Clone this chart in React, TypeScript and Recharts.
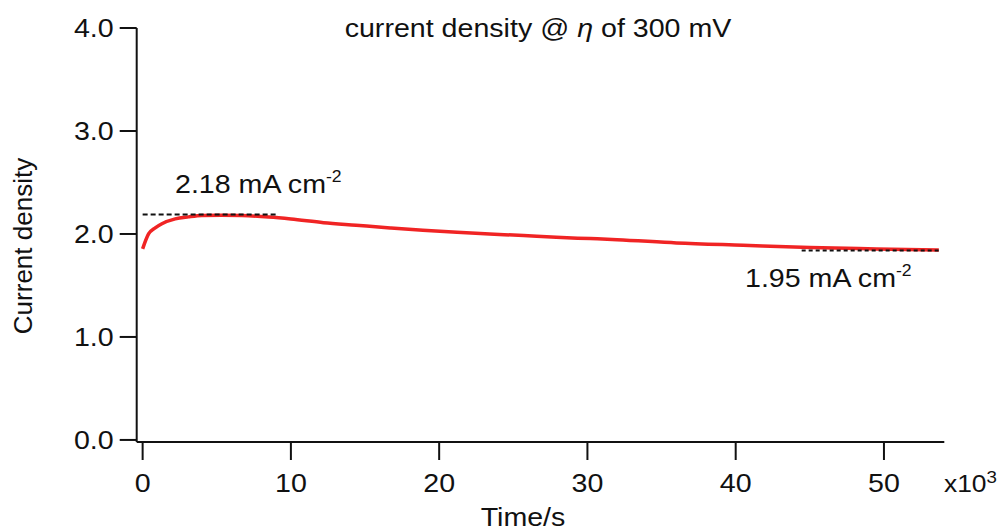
import type { ReactNode } from 'react'
import { Line, LineChart, ReferenceLine, XAxis, YAxis } from 'recharts'

// time in 10^3 s, current density in mA cm^-2
const timeK = [0, 0.4, 0.85, 1.3, 2.2, 3.1, 4, 5.3, 6.7, 8.5, 10, 12.2, 14.4, 16.7, 18.9, 21.2, 23.4, 25.7, 27.9, 30.2, 32, 36, 40.5, 45, 49.5, 53.7]
const currentDensity = [1.855, 2.0, 2.06, 2.1, 2.147, 2.166, 2.179, 2.182, 2.179, 2.164, 2.145, 2.11, 2.085, 2.059, 2.036, 2.016, 2.0, 1.984, 1.967, 1.955, 1.945, 1.913, 1.89, 1.868, 1.855, 1.845]

const xTicks = [0, 10, 20, 30, 40, 50]
const yTicks = [0, 1, 2, 3, 4]

// dashed guide lines: [start time, end time, level]
const peakGuide = [0, 9.1, 2.19]
const endGuide = [44.45, 53.75, 1.84]

const data = timeK.map((t, i) => ({ t, j: currentDensity[i] }))

const FONT = '"Liberation Sans", Arial, Helvetica, sans-serif'
const INK = '#111'
const SX = 1.1 // the original lettering is a bit wide

function Wide({ x, y, anchor = 'start', size = 26, dy, children }: { x: number; y: number; anchor?: 'start' | 'middle' | 'end'; size?: number; dy?: string; children: ReactNode }) {
  return (
    <g transform={`translate(${x},${y}) scale(${SX},1)`}>
      <text x={0} y={0} dy={dy} textAnchor={anchor} fontSize={size} fontFamily={FONT} fill={INK}>
        {children}
      </text>
    </g>
  )
}

const XTick = (p: any) => <Wide x={p.x} y={p.y} anchor="middle" dy="0.71em">{p.payload.value}</Wide>
const YTick = (p: any) => <Wide x={p.x} y={p.y} anchor="end" dy="0.355em">{Number(p.payload.value).toFixed(1)}</Wide>

export default function App() {
  return (
    <div style={{ position: 'fixed', left: 0, top: 0, width: 1007, height: 531, background: '#fff' }}>
      <LineChart width={1007} height={531} data={data} margin={{ top: 28, right: 62.7, bottom: 29, left: 56.7 }}>
        <XAxis
          dataKey="t"
          type="number"
          domain={[-0.4, 54.07]}
          ticks={xTicks}
          tickSize={18}
          tickMargin={14}
          axisLine={{ stroke: INK, strokeWidth: 2 }}
          tickLine={{ stroke: INK, strokeWidth: 2 }}
          tick={XTick}
          height={60}
        />
        <YAxis
          type="number"
          domain={[-0.02, 4]}
          ticks={yTicks}
          tickSize={17}
          tickMargin={6}
          axisLine={{ stroke: INK, strokeWidth: 2 }}
          tickLine={{ stroke: INK, strokeWidth: 2 }}
          tick={YTick}
          width={80}
        />
        <Line type="monotone" dataKey="j" stroke="#f02424" strokeWidth={3.5} dot={false} isAnimationActive={false} />
        <ReferenceLine
          segment={[{ x: peakGuide[0], y: peakGuide[2] }, { x: peakGuide[1], y: peakGuide[2] }]}
          stroke={INK}
          strokeWidth={2}
          strokeDasharray="5 3"
        />
        <ReferenceLine
          segment={[{ x: endGuide[0], y: endGuide[2] }, { x: endGuide[1], y: endGuide[2] }]}
          stroke={INK}
          strokeWidth={2}
          strokeDasharray="4 3"
        />
      </LineChart>
      <svg width={1007} height={531} style={{ position: 'absolute', left: 0, top: 0, pointerEvents: 'none' }}>
        <Wide x={538} y={37} anchor="middle">
          current density @ <tspan fontStyle="italic">η</tspan> of 300 mV
        </Wide>
        <text transform="translate(32,246) rotate(-90)" textAnchor="middle" fontSize={26} fontFamily={FONT} fill={INK}>
          Current density
        </text>
        <Wide x={523} y={526} anchor="middle">Time/s</Wide>
        <Wide x={944} y={492} size={24}>
          x10<tspan fontSize={17} dy={-9}>3</tspan>
        </Wide>
        <Wide x={175} y={193}>
          2.18 mA cm<tspan fontSize={16} dy={-11}>-2</tspan>
        </Wide>
        <Wide x={745} y={287}>
          1.95 mA cm<tspan fontSize={16} dy={-11}>-2</tspan>
        </Wide>
      </svg>
    </div>
  )
}
